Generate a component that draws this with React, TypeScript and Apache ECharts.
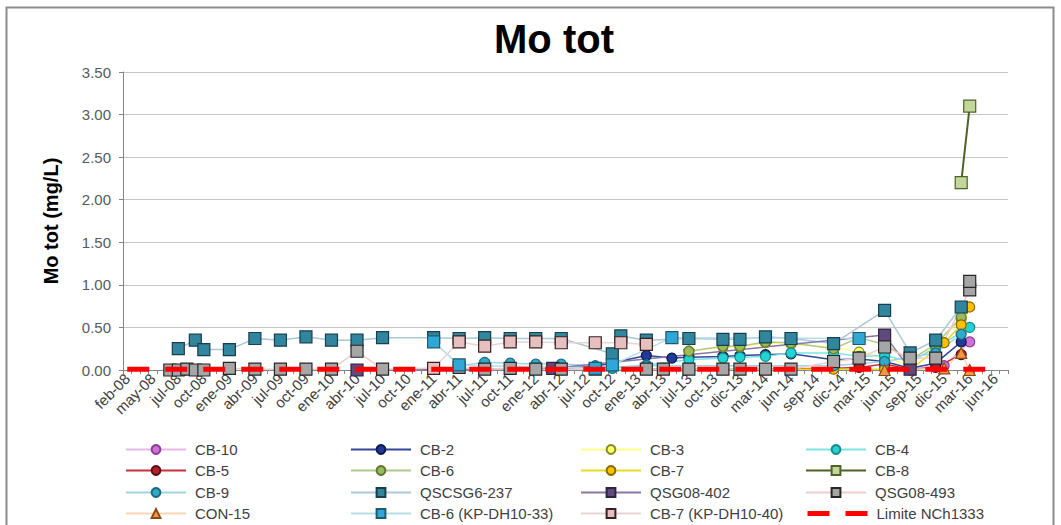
import React, { useEffect, useRef } from "react";
import * as echarts from "echarts";

// Tick labels (every third category of the sampling axis)
const tickLabels = [
  "feb-08", "may-08", "jul-08", "oct-08", "ene-09", "abr-09", "jul-09", "oct-09",
  "ene-10", "abr-10", "jul-10", "oct-10", "ene-11", "abr-11", "jul-11", "oct-11",
  "ene-12", "abr-12", "jul-12", "oct-12", "ene-13", "abr-13", "jul-13", "oct-13",
  "dic-13", "mar-14", "jun-14", "sep-14", "dic-14", "mar-15", "jun-15", "sep-15",
  "dic-15", "mar-16", "jun-16",
];
const categoryCount = 104;
const categories: string[] = [];
for (let i = 0; i < categoryCount; i++) {
  const base = tickLabels[Math.floor(i / 3)];
  categories.push(i % 3 === 0 ? base : `${base} (${i % 3})`);
}

const yTicks = [0, 0.5, 1, 1.5, 2, 2.5, 3, 3.5];

// [category index, Mo tot mg/L]
const CB10 = [[89, 0.02], [92, 0.01], [96, 0.05], [99, 0.33]];
const CB2 = [[51, 0.02], [55, 0.04], [61, 0.17], [64, 0.14], [66, 0.15], [70, 0.16], [72, 0.17], [75, 0.18], [78, 0.19], [83, 0.12], [86, 0.13], [89, 0.1], [92, 0.02], [95, 0.08], [98, 0.33]];
const CB3 = [[66, 0.22], [70, 0.27], [72, 0.27], [75, 0.32], [78, 0.3], [83, 0.27], [86, 0.21], [89, 0.15], [92, 0.05], [95, 0.3], [98, 0.6]];
const CB4 = [[57, 0.03], [61, 0.06], [66, 0.12], [70, 0.14], [72, 0.15], [75, 0.16], [78, 0.2], [83, 0.2], [86, 0.16], [89, 0.17], [92, 0.1], [95, 0.26], [99, 0.5]];
const CB5 = [[61, 0.01], [75, 0.01], [83, 0.02], [86, 0.03], [89, 0.07], [92, 0.01], [95, 0.03], [98, 0.18]];
const CB6 = [[66, 0.22], [70, 0.28], [72, 0.28], [75, 0.33], [78, 0.32], [83, 0.25], [86, 0.38], [89, 0.3], [92, 0.12], [95, 0.3], [98, 0.62]];
const CB7 = [[66, 0.01], [75, 0.01], [83, 0.01], [89, 0.01], [92, 0.0], [96, 0.32], [98, 0.53], [99, 0.74]];
const CB8 = [[98, 2.2], [99, 3.1]];
const CB9 = [[39, 0.05], [42, 0.09], [45, 0.08], [48, 0.07], [51, 0.07], [55, 0.05], [57, 0.02], [61, 0.05], [83, 0.05], [89, 0.1], [95, 0.2], [98, 0.42]];
const QSCSG6_237 = [[6, 0.25], [8, 0.35], [9, 0.24], [12, 0.24], [15, 0.37], [18, 0.35], [21, 0.39], [24, 0.35], [27, 0.35], [30, 0.38], [36, 0.38], [39, 0.37], [42, 0.38], [45, 0.37], [48, 0.37], [51, 0.37], [57, 0.19], [58, 0.4], [61, 0.35], [66, 0.37], [70, 0.36], [72, 0.36], [75, 0.39], [78, 0.37], [83, 0.31], [89, 0.7], [92, 0.2], [95, 0.35], [98, 0.74]];
const QSG08_402 = [[27, 0.0], [50, 0.02], [89, 0.41], [92, 0.01]];
const QSG08_493 = [[5, 0.0], [6, 0.0], [7, 0.01], [8, 0.0], [9, 0.0], [12, 0.02], [15, 0.01], [18, 0.01], [21, 0.01], [24, 0.01], [27, 0.22], [30, 0.01], [39, 0.03], [42, 0.01], [45, 0.02], [48, 0.01], [51, 0.01], [55, 0.01], [61, 0.01], [63, 0.01], [66, 0.01], [70, 0.01], [72, 0.01], [75, 0.01], [78, 0.01], [83, 0.1], [86, 0.14], [89, 0.27], [92, 0.14], [95, 0.14], [99, 0.94], [99, 1.04]];
const CON15 = [[89, 0.0], [96, 0.02], [98, 0.2], [99, 0.0]];
const CB6_KP = [[36, 0.33], [39, 0.06], [55, 0.02], [57, 0.06], [64, 0.38], [86, 0.37]];
const CB7_KP = [[36, 0.02], [39, 0.33], [42, 0.28], [45, 0.33], [48, 0.33], [51, 0.32], [55, 0.32], [58, 0.32], [61, 0.3]];
const limitValue = 0.01;
const limitSpan = [0, 102];

const defs = [
  { name: "CB-10", data: CB10, symbol: "circle", size: 10, fill: "#d070d8", border: "#8a3d90", line: "#e6b8e8" },
  { name: "CB-2", data: CB2, symbol: "circle", size: 10, fill: "#1f3a99", border: "#0c1a4f", line: "#33479a" },
  { name: "CB-3", data: CB3, symbol: "circle", size: 10, fill: "#ffff66", border: "#8a8a2a", line: "#ffff88" },
  { name: "CB-4", data: CB4, symbol: "circle", size: 10, fill: "#22d3d3", border: "#168a8a", line: "#7fe3e3" },
  { name: "CB-5", data: CB5, symbol: "circle", size: 10, fill: "#b3202a", border: "#5a0f14", line: "#c8303a" },
  { name: "CB-6", data: CB6, symbol: "circle", size: 10, fill: "#9bbb59", border: "#5f7a30", line: "#b3c98a" },
  { name: "CB-7", data: CB7, symbol: "circle", size: 10, fill: "#ffc000", border: "#8a6a00", line: "#e8dc20" },
  { name: "CB-8", data: CB8, symbol: "rect", size: 12, fill: "#c4d79b", border: "#4f6228", line: "#4f6228" },
  { name: "CB-9", data: CB9, symbol: "circle", size: 10, fill: "#31a9c9", border: "#1d6b80", line: "#9ed3e2" },
  { name: "QSCSG6-237", data: QSCSG6_237, symbol: "rect", size: 12, fill: "#31859c", border: "#173f4d", line: "#a9c9d6" },
  { name: "QSG08-402", data: QSG08_402, symbol: "rect", size: 12, fill: "#604a7b", border: "#2e2340", line: "#8a74a8" },
  { name: "QSG08-493", data: QSG08_493, symbol: "rect", size: 12, fill: "#a6a6a6", border: "#262626", line: "#f2cccc" },
  { name: "CON-15", data: CON15, symbol: "triangle", size: 11, fill: "#f79646", border: "#8a4a10", line: "#fcd5b4" },
  { name: "CB-6 (KP-DH10-33)", data: CB6_KP, symbol: "rect", size: 12, fill: "#2fa8d8", border: "#1f5a70", line: "#b7dee8" },
  { name: "CB-7 (KP-DH10-40)", data: CB7_KP, symbol: "rect", size: 12, fill: "#e6c0c0", border: "#3a2020", line: "#e8d4d4" },
];

const legendCols = [
  { left: 125, names: ["CB-10", "CB-5", "CB-9", "CON-15"] },
  { left: 350, names: ["CB-2", "CB-6", "QSCSG6-237", "CB-6 (KP-DH10-33)"] },
  { left: 580, names: ["CB-3", "CB-7", "QSG08-402", "CB-7 (KP-DH10-40)"] },
  { left: 805, names: ["CB-4", "CB-8", "QSG08-493", "Limite NCh1333"] },
];
const legendRowTops = [442, 463, 485, 506];

const FONT = "'Liberation Sans', Arial, sans-serif";

export default function App() {
  const ref = useRef<HTMLDivElement>(null);
  useEffect(() => {
    const chart = echarts.init(ref.current!, null, { renderer: "svg" });
    const series: any[] = defs.map((d) => ({
      name: d.name,
      type: "line",
      data: d.data,
      symbol: d.symbol,
      symbolSize: d.size,
      showSymbol: true,
      showAllSymbol: true,
      connectNulls: true,
      itemStyle: { color: d.fill, borderColor: d.border, borderWidth: 1.2 },
      lineStyle: { color: d.line, width: d.name === "CB-8" ? 2 : 1.5 },
      emphasis: { disabled: true },
    }));
    series.push({
      name: "Limite NCh1333",
      type: "line",
      data: limitSpan.map((i) => [i, limitValue]),
      symbol: "none",
      itemStyle: { color: "#ff0000" },
      lineStyle: { color: "#ff0000", width: 5, type: [22, 16], cap: "butt" },
      z: 5,
      emphasis: { disabled: true },
    });

    const legends: any[] = [];
    legendCols.forEach((c) => {
      c.names.forEach((n, r) => {
        legends.push({
          left: c.left,
          top: legendRowTops[r],
          orient: "horizontal",
          padding: 0,
          itemWidth: 60,
          itemHeight: 11,
          selectedMode: false,
          textStyle: { fontFamily: FONT, fontSize: 15, color: "#404040", padding: [0, 0, 0, 4] },
          data: [
            n === "Limite NCh1333"
              ? {
                  name: n,
                  lineStyle: { width: 5, type: [22, 16] },
                  itemStyle: { color: "rgba(0,0,0,0)", borderWidth: 0, opacity: 0 },
                }
              : { name: n },
          ],
        });
      });
    });

    chart.setOption({
      animation: false,
      backgroundColor: "#ffffff",
      title: {
        text: "Mo tot",
        left: 549,
        top: 14,
        textAlign: "center",
        textStyle: { fontFamily: FONT, fontSize: 40, fontWeight: "bold", color: "#000" },
      },
      graphic: [
        {
          type: "rect",
          shape: { x: 6.5, y: 7.5, width: 1047, height: 530 },
          style: { fill: "none", stroke: "#8c8c8c", lineWidth: 2 },
          silent: true,
        },
      ],
      grid: { left: 123, right: 53, top: 72, bottom: 155, containLabel: false },
      legend: legends,
      xAxis: {
        type: "category",
        data: categories,
        boundaryGap: true,
        axisLine: { lineStyle: { color: "#868686" } },
        axisTick: { show: true, interval: 0, length: 4, lineStyle: { color: "#868686" } },
        axisLabel: {
          interval: 2,
          rotate: 45,
          margin: 6,
          fontFamily: FONT,
          fontSize: 15,
          color: "#404040",
        },
        splitLine: { show: false },
      },
      yAxis: {
        type: "value",
        min: 0,
        max: 3.5,
        interval: 0.5,
        name: "Mo tot (mg/L)",
        nameLocation: "middle",
        nameGap: 62,
        nameRotate: 90,
        nameTextStyle: { fontFamily: FONT, fontSize: 20, fontWeight: "bold", color: "#000" },
        axisLine: { show: true, lineStyle: { color: "#868686" } },
        axisTick: { show: true, length: 4, lineStyle: { color: "#868686" } },
        axisLabel: {
          fontFamily: FONT,
          fontSize: 15,
          color: "#595959",
          margin: 12,
          formatter: (v: number) => (yTicks.includes(v) ? v.toFixed(2) : ""),
        },
        splitLine: { show: true, lineStyle: { color: "#c6c6c6", width: 1 } },
      },
      series,
    });
    return () => chart.dispose();
  }, []);
  return (
    <div
      ref={ref}
      style={{ position: "fixed", left: 0, top: 0, width: 1061, height: 525, background: "#fff" }}
    />
  );
}
